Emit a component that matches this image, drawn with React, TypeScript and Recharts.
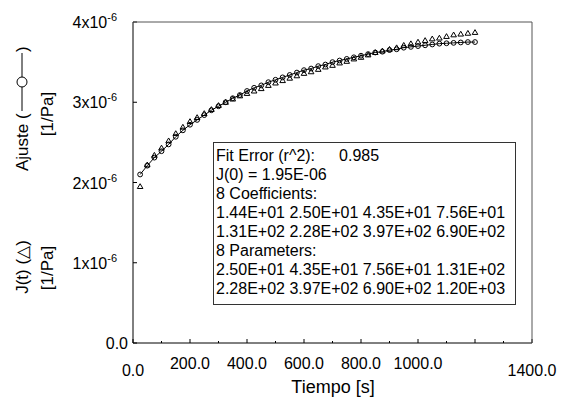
import React from "react";
import { LineChart, Line, XAxis, YAxis } from "recharts";

// tiempo [s]
const TIMES = [
  25, 50, 75, 100, 125, 150, 175, 200, 225, 250, 275, 300, 325, 350, 375, 400,
  425, 450, 475, 500, 525, 550, 575, 600, 625, 650, 675, 700, 725, 750, 775, 800,
  825, 850, 875, 900, 925, 950, 975, 1000, 1025, 1050, 1075, 1100, 1125, 1150,
  1175, 1200,
];

// ajuste (x10^-6 1/Pa)
const FIT = [
  2.1, 2.21, 2.31, 2.39, 2.475, 2.57, 2.65, 2.72, 2.78, 2.84, 2.9, 2.95, 3.0,
  3.05, 3.09, 3.14, 3.18, 3.21, 3.25, 3.28, 3.31, 3.34, 3.37, 3.4, 3.42, 3.45,
  3.47, 3.5, 3.52, 3.54, 3.56, 3.58, 3.6, 3.62, 3.63, 3.65, 3.66, 3.68, 3.69,
  3.7, 3.71, 3.72, 3.73, 3.735, 3.74, 3.745, 3.75, 3.75,
];

// J(t) medido (x10^-6 1/Pa)
const JT = [
  1.95, 2.22, 2.34, 2.43, 2.52, 2.61, 2.69, 2.76, 2.81, 2.86, 2.91, 2.96, 3.0,
  3.04, 3.08, 3.11, 3.14, 3.17, 3.21, 3.24, 3.27, 3.3, 3.33, 3.36, 3.38, 3.41,
  3.44, 3.46, 3.49, 3.51, 3.54, 3.56, 3.59, 3.62, 3.64, 3.66, 3.68, 3.71, 3.73,
  3.75, 3.77, 3.79, 3.8, 3.82, 3.84, 3.85, 3.86, 3.87,
];

const X_TICKS = [0, 100, 200, 300, 400, 500, 600, 700, 800, 900, 1000, 1100, 1200, 1300, 1400];
const X_LABELS: Record<number, string> = {
  0: "0.0",
  200: "200.0",
  400: "400.0",
  600: "600.0",
  800: "800.0",
  1000: "1000.0",
  1400: "1400.0",
};
const Y_TICKS = [0, 1, 2, 3, 4];

const FIT_BOX_LINES = [
  "J(0) = 1.95E-06",
  "8 Coefficients:",
  "1.44E+01 2.50E+01 4.35E+01 7.56E+01",
  "1.31E+02 2.28E+02 3.97E+02 6.90E+02",
  "8 Parameters:",
  "2.50E+01 4.35E+01 7.56E+01 1.31E+02",
  "2.28E+02 3.97E+02 6.90E+02 1.20E+03",
];

const data = TIMES.map((t, i) => ({ t, fit: FIT[i], jt: JT[i] }));

const FONT = "'Liberation Sans', Arial, sans-serif";
const W = 569;
const H = 398;
const M_TOP = 22;
const M_RIGHT = 37;
const PLOT_LEFT = 133;
const PLOT_BOTTOM = 343;

function XTick(props: any) {
  const { x, payload } = props;
  const v = payload.value;
  const major = v % 200 === 0;
  const label = X_LABELS[v];
  const low = v === 0 || v === 1400;
  return (
    <g>
      <line x1={x} x2={x} y1={PLOT_BOTTOM} y2={PLOT_BOTTOM - (major ? 4 : 2)} stroke="#000" />
      {label && (
        <text x={x} y={low ? 376 : 369} textAnchor="middle" fontSize={16} fontFamily={FONT} fill="#000">
          {label}
        </text>
      )}
    </g>
  );
}

function YTick(props: any) {
  const { y, payload } = props;
  const v = payload.value;
  return (
    <g>
      <line x1={PLOT_LEFT} x2={PLOT_LEFT + 4} y1={y} y2={y} stroke="#000" />
      {v === 0 ? (
        <text x={128} y={y + 6} textAnchor="end" fontSize={16} fontFamily={FONT} fill="#000">
          0.0
        </text>
      ) : (
        <text x={117} y={y + 6} textAnchor="end" fontSize={16} fontFamily={FONT} fill="#000">
          {v}x10
          <tspan dy={-7} fontSize={11}>-6</tspan>
        </text>
      )}
    </g>
  );
}

const circleDot = (p: any) => (
  <circle key={`c-${p.index}`} cx={p.cx} cy={p.cy} r={2.4} fill="none" stroke="#000" strokeWidth={1} />
);

const triDot = (p: any) => (
  <polygon
    key={`t-${p.index}`}
    points={`${p.cx},${p.cy - 2.8} ${p.cx - 2.8},${p.cy + 2} ${p.cx + 2.8},${p.cy + 2}`}
    fill="none"
    stroke="#000"
    strokeWidth={1}
  />
);

export default function App() {
  return (
    <div style={{ position: "absolute", left: 0, top: 0, width: W, height: H, background: "#fff" }}>
      <LineChart width={W} height={H} data={data} margin={{ top: M_TOP, right: M_RIGHT, left: 0, bottom: 0 }}>
        <XAxis
          dataKey="t"
          type="number"
          domain={[0, 1400]}
          ticks={X_TICKS}
          interval={0}
          tickLine={false}
          tick={XTick}
          height={55}
          axisLine={{ stroke: "#000" }}
        />
        <YAxis
          type="number"
          domain={[0, 4]}
          ticks={Y_TICKS}
          interval={0}
          tickLine={false}
          tick={YTick}
          width={133}
          axisLine={{ stroke: "#000" }}
        />
        <Line
          dataKey="fit"
          stroke="#000"
          strokeWidth={1}
          dot={circleDot}
          activeDot={false}
          isAnimationActive={false}
        />
        <Line
          dataKey="jt"
          stroke="none"
          dot={triDot}
          activeDot={false}
          isAnimationActive={false}
        />
      </LineChart>

      <svg
        width={W}
        height={H}
        style={{ position: "absolute", left: 0, top: 0, pointerEvents: "none" }}
        fontFamily={FONT}
      >
        {/* marco superior y derecho */}
        <polyline
          points={`${PLOT_LEFT},${M_TOP} ${W - M_RIGHT},${M_TOP} ${W - M_RIGHT},${PLOT_BOTTOM}`}
          fill="none"
          stroke="#555"
        />
        <g transform="translate(22,107) rotate(-90)">
          <text x={-64} y={6} fontSize={17} fill="#000">
            Ajuste (
          </text>
          <line x1={-4} x2={54} y1={0} y2={0} stroke="#000" />
          <circle cx={25} cy={0} r={5} fill="#fff" stroke="#000" />
          <text x={55} y={6} fontSize={17} fill="#000">
            )
          </text>
        </g>
        <text transform="translate(47,114) rotate(-90)" y={6} textAnchor="middle" fontSize={17} fill="#000">
          [1/Pa]
        </text>
        <text transform="translate(22,267) rotate(-90)" y={6} textAnchor="middle" fontSize={17} fill="#000">
          J(t) (△)
        </text>
        <text transform="translate(47,268) rotate(-90)" y={6} textAnchor="middle" fontSize={17} fill="#000">
          [1/Pa]
        </text>
        <text x={333} y={393} textAnchor="middle" fontSize={18} fill="#000">
          Tiempo [s]
        </text>
      </svg>

      <div
        style={{
          position: "absolute",
          left: 213,
          top: 142,
          width: 299,
          height: 158,
          border: "1px solid #333",
          background: "#fff",
          fontFamily: FONT,
          fontSize: 16,
          lineHeight: "19px",
          paddingTop: 3,
          paddingLeft: 2,
          boxSizing: "content-box",
          color: "#000",
          whiteSpace: "pre",
        }}
      >
        <div>
          Fit Error (r^2):<span style={{ marginLeft: 24 }}>0.985</span>
        </div>
        {FIT_BOX_LINES.map((l) => (
          <div key={l}>{l}</div>
        ))}
      </div>
    </div>
  );
}
